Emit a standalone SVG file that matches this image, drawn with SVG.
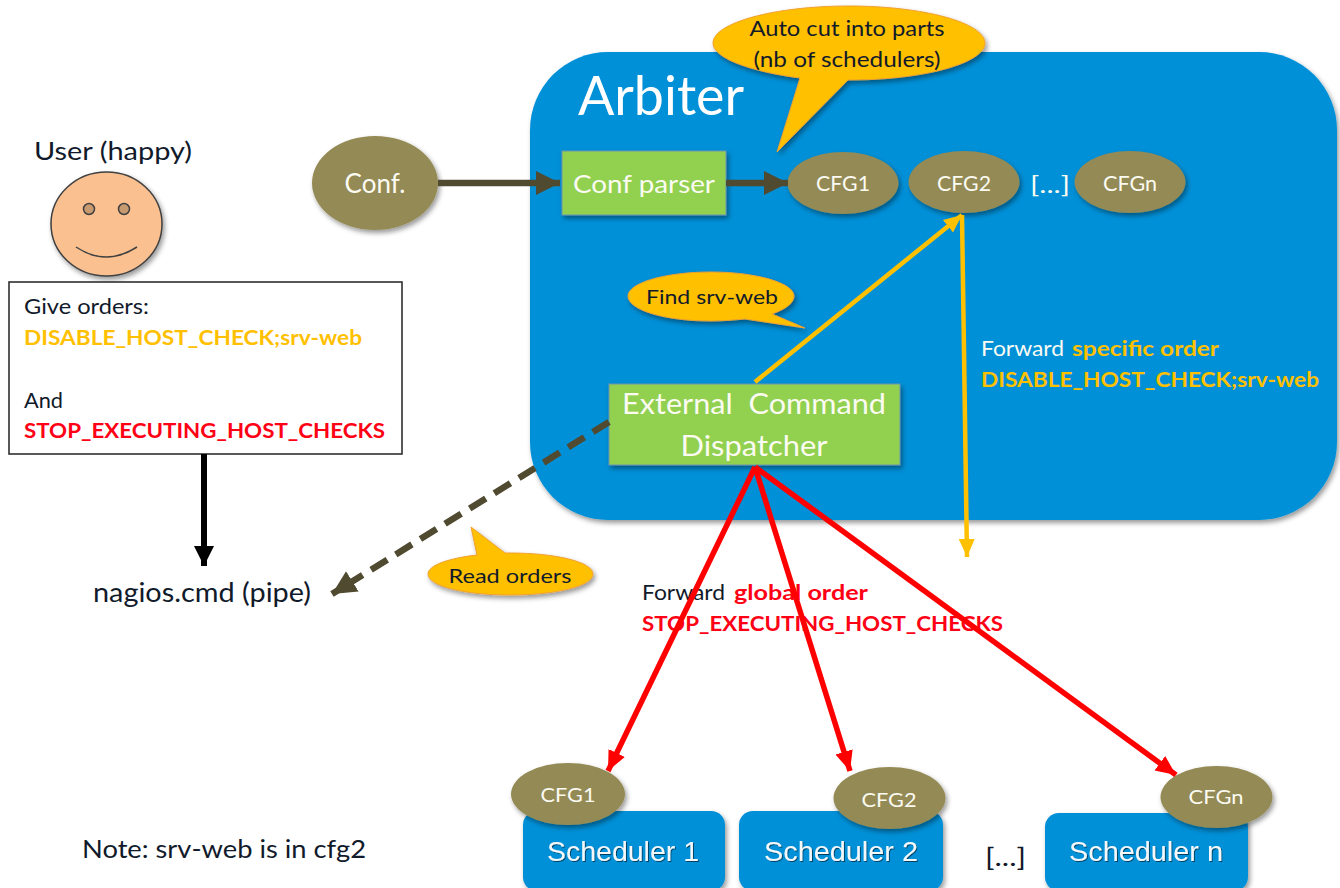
<svg xmlns="http://www.w3.org/2000/svg" width="1340" height="888" viewBox="0 0 1340 888">
<style>
text{font-family:"Lato","Carlito","Open Sans",sans-serif;fill:#111a2a}
.w{fill:#fbfbf2}.y{fill:#ffc000;font-weight:700}.r{fill:#ff0014;font-weight:700}
.m{text-anchor:middle}
.o{fill:#948a54}.g{fill:#92d050;stroke:#6f94b0;stroke-width:1}.c{fill:#ffc000;stroke:#f0a030;stroke-width:1}
.s{fill:#0090d8}
.sn{font-family:"Liberation Sans",Arial,sans-serif;font-size:27px;fill:#f4f8fa;text-anchor:middle}
.dk{fill:none;stroke:#4f4a30;stroke-width:6.500}
.ye{fill:none;stroke:#ffc000;stroke-width:4.500}
.re{fill:none;stroke:#ff0000;stroke-width:5.500}
</style>
<defs>
<filter id="sh" x="-20%" y="-20%" width="140%" height="140%"><feDropShadow dx="2" dy="3" stdDeviation="2.500" flood-color="#000" flood-opacity=".4"/></filter>
<filter id="ts" x="-5%" y="-20%" width="110%" height="140%"><feDropShadow dx="1" dy="1" stdDeviation=".7" flood-color="#000" flood-opacity=".55"/></filter>
<marker id="mk" markerUnits="userSpaceOnUse" markerWidth="26" markerHeight="28" refX="24" refY="14" orient="auto"><path d="M0 2L24 14L0 26Z" fill="#4f4a30"/></marker>
<marker id="mb" markerUnits="userSpaceOnUse" markerWidth="22" markerHeight="22" refX="20" refY="10" orient="auto"><path d="M0 0L20 10L0 20Z" fill="#000"/></marker>
<marker id="my" markerUnits="userSpaceOnUse" markerWidth="20" markerHeight="18" refX="18" refY="9" orient="auto"><path d="M0 1L18 9L0 17Z" fill="#ffc000"/></marker>
<marker id="mr" markerUnits="userSpaceOnUse" markerWidth="22" markerHeight="22" refX="20" refY="10" orient="auto"><path d="M0 1L20 10L0 19Z" fill="#ff0000"/></marker>
</defs>

<g id="arbiter">
<rect class="s" x="530" y="52" width="807" height="468" rx="78" filter="url(#sh)"/>
<text class="w" x="578" y="115" font-size="54" textLength="166" lengthAdjust="spacingAndGlyphs" style="fill:#fff">Arbiter</text>
<text class="w" x="1030" y="193" font-size="23" textLength="40" lengthAdjust="spacingAndGlyphs">[...]</text>
</g>

<g id="user">
<text x="34" y="160" font-size="25" textLength="158" lengthAdjust="spacingAndGlyphs">User (happy)</text>
<ellipse cx="106.500" cy="224" rx="55.500" ry="52" fill="#fac090" stroke="#404040" stroke-width="1.500" filter="url(#sh)"/>
<ellipse cx="89" cy="209" rx="5.500" ry="5.500" fill="#c89a70" stroke="#404040" stroke-width="1.500"/>
<ellipse cx="124" cy="209" rx="5.500" ry="5.500" fill="#c89a70" stroke="#404040" stroke-width="1.500"/>
<path d="M76 247Q106 267 137 247" fill="none" stroke="#404040" stroke-width="1.500"/>
</g>

<g id="orders">
<rect x="9" y="282" width="393" height="172" fill="#fff" stroke="#222" stroke-width="1.500"/>
<text x="24" y="314" font-size="20.500" textLength="125" lengthAdjust="spacingAndGlyphs">Give orders:</text>
<text class="y" x="24" y="345" font-size="20.500" textLength="338" lengthAdjust="spacingAndGlyphs">DISABLE_HOST_CHECK;srv-web</text>
<text x="24" y="408" font-size="20.500" textLength="39" lengthAdjust="spacingAndGlyphs">And</text>
<text class="r" x="24" y="438" font-size="20.500" textLength="361" lengthAdjust="spacingAndGlyphs">STOP_EXECUTING_HOST_CHECKS</text>
</g>

<g id="pipe"><text x="93" y="602" font-size="26" textLength="218" lengthAdjust="spacingAndGlyphs">nagios.cmd (pipe)</text></g>

<g id="conf">
<ellipse class="o" cx="375" cy="183" rx="63" ry="47" filter="url(#sh)"/>
<text class="w m" x="375" y="193" font-size="26">Conf.</text>
</g>
<g id="conf-parser">
<rect class="g" x="562" y="151" width="164" height="64" filter="url(#sh)"/>
<text class="w" x="573" y="193" font-size="25" textLength="142" lengthAdjust="spacingAndGlyphs">Conf parser</text>
</g>
<g id="cfg1">
<ellipse class="o" cx="843" cy="183" rx="55.500" ry="31" filter="url(#sh)"/>
<text class="w m" x="843" y="191" font-size="21" textLength="54" lengthAdjust="spacingAndGlyphs">CFG1</text>
</g>
<g id="cfg2">
<ellipse class="o" cx="964" cy="182" rx="55.500" ry="31" filter="url(#sh)"/>
<text class="w m" x="964" y="191" font-size="21" textLength="54" lengthAdjust="spacingAndGlyphs">CFG2</text>
</g>
<g id="cfgn">
<ellipse class="o" cx="1130" cy="182" rx="55.500" ry="31" filter="url(#sh)"/>
<text class="w m" x="1130" y="191" font-size="21" textLength="54" lengthAdjust="spacingAndGlyphs">CFGn</text>
</g>

<g id="dispatcher">
<rect class="g" x="609" y="384" width="291" height="81" filter="url(#sh)"/>
<text class="w" x="622" y="414" font-size="29" textLength="264" lengthAdjust="spacingAndGlyphs" xml:space="preserve">External  Command</text>
<text class="w m" x="754" y="456" font-size="29" textLength="147" lengthAdjust="spacingAndGlyphs">Dispatcher</text>
</g>

<g id="labels">
<text class="w" x="981" y="356" font-size="20.500" textLength="83" lengthAdjust="spacingAndGlyphs">Forward</text>
<text class="y" x="1072" y="356" font-size="20.500" textLength="147" lengthAdjust="spacingAndGlyphs">specific order</text>
<text class="y" x="981" y="387" font-size="20.500" textLength="338" lengthAdjust="spacingAndGlyphs">DISABLE_HOST_CHECK;srv-web</text>
<text x="642" y="600" font-size="20.500" textLength="83" lengthAdjust="spacingAndGlyphs">Forward</text>
<text class="r" x="734" y="600" font-size="20.500" textLength="134" lengthAdjust="spacingAndGlyphs">global order</text>
<text class="r" x="642" y="631" font-size="20.500" textLength="361" lengthAdjust="spacingAndGlyphs">STOP_EXECUTING_HOST_CHECKS</text>
<text x="82" y="858" font-size="25" textLength="284" lengthAdjust="spacingAndGlyphs">Note: srv-web is in cfg2</text>
<text x="985" y="866" font-size="25" textLength="41" lengthAdjust="spacingAndGlyphs">[...]</text>
</g>

<g id="connectors">
<line class="dk" x1="438" y1="183" x2="560" y2="183" marker-end="url(#mk)"/>
<line class="dk" x1="726" y1="183" x2="788" y2="183" marker-end="url(#mk)"/>
<line class="dk" stroke-dasharray="19 10" x1="609" y1="422" x2="332" y2="594" marker-end="url(#mk)"/>
<line x1="204" y1="454" x2="204" y2="566" stroke="#000" stroke-width="6" marker-end="url(#mb)"/>
<line class="ye" x1="755" y1="382" x2="962" y2="215" marker-end="url(#my)"/>
<line class="ye" x1="962" y1="215" x2="967" y2="557" marker-end="url(#my)"/>
<line class="re" x1="755" y1="467" x2="608" y2="771" marker-end="url(#mr)"/>
<line class="re" x1="755" y1="467" x2="850" y2="771" marker-end="url(#mr)"/>
<line class="re" x1="755" y1="467" x2="1176" y2="775" marker-end="url(#mr)"/>
</g>

<g id="callout-cut">
<path class="c" d="M849 6C924 6 985 23 985 43C985 63 924 80 849 80L848 80L777 152L800 78C754 72 713 59 713 43C713 23 774 6 849 6Z" filter="url(#sh)"/>
<text class="m" x="847" y="36" font-size="21" textLength="195" lengthAdjust="spacingAndGlyphs">Auto cut into parts</text>
<text class="m" x="847" y="67" font-size="21" textLength="187" lengthAdjust="spacingAndGlyphs">(nb of schedulers)</text>
</g>
<g id="callout-find">
<path class="c" d="M711 272C756 272 794 283 794 296C794 303 786 309 772 314L805 328L745 319C733 320 722 321 711 321C665 321 628 310 628 296C628 283 665 272 711 272Z" filter="url(#sh)"/>
<text class="m" x="712" y="304" font-size="19" textLength="132" lengthAdjust="spacingAndGlyphs">Find srv-web</text>
</g>
<g id="callout-read">
<path class="c" d="M510 553C556 553 593 562 593 574C593 586 556 595 510 595C464 595 428 586 428 574C428 565 450 558 477 555L471 527L505 553Z" filter="url(#sh)"/>
<text class="m" x="510" y="583" font-size="19" textLength="123" lengthAdjust="spacingAndGlyphs">Read orders</text>
</g>

<g id="scheduler1">
<rect class="s" x="523" y="811" width="202" height="80" rx="14" filter="url(#sh)"/>
<text class="sn" x="623" y="861" textLength="152" lengthAdjust="spacingAndGlyphs" filter="url(#ts)">Scheduler 1</text>
<ellipse class="o" cx="568" cy="794" rx="57" ry="31" filter="url(#sh)"/>
<text class="w m" x="568" y="802" font-size="20" textLength="55" lengthAdjust="spacingAndGlyphs">CFG1</text>
</g>
<g id="scheduler2">
<rect class="s" x="739" y="811" width="204" height="80" rx="14" filter="url(#sh)"/>
<text class="sn" x="841" y="861" textLength="154" lengthAdjust="spacingAndGlyphs" filter="url(#ts)">Scheduler 2</text>
<ellipse class="o" cx="889.500" cy="798" rx="56" ry="31" filter="url(#sh)"/>
<text class="w m" x="889" y="807" font-size="20" textLength="55" lengthAdjust="spacingAndGlyphs">CFG2</text>
</g>
<g id="schedulern">
<rect class="s" x="1045" y="813" width="203" height="78" rx="14" filter="url(#sh)"/>
<text class="sn" x="1146" y="861" textLength="154" lengthAdjust="spacingAndGlyphs" filter="url(#ts)">Scheduler n</text>
<ellipse class="o" cx="1216.500" cy="797" rx="56" ry="31" filter="url(#sh)"/>
<text class="w m" x="1216" y="804" font-size="20" textLength="55" lengthAdjust="spacingAndGlyphs">CFGn</text>
</g>
</svg>
